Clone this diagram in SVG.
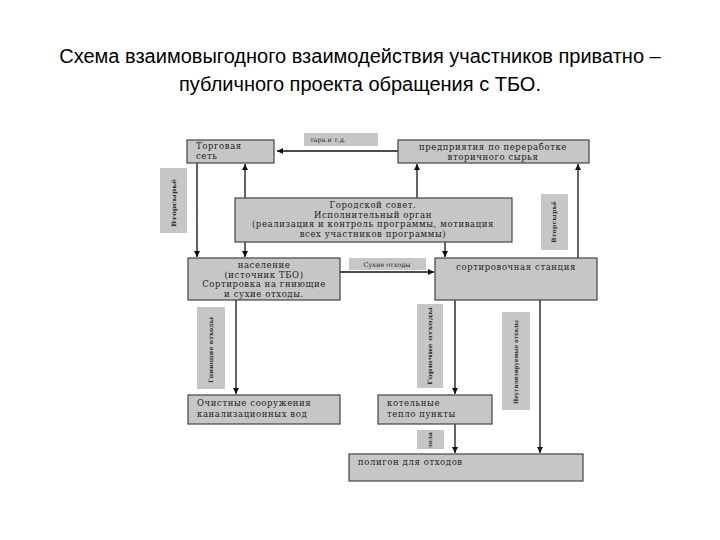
<svg xmlns="http://www.w3.org/2000/svg" width="720" height="540" viewBox="0 0 720 540">
<defs>
<marker id="ah" viewBox="0 0 10 10" refX="10" refY="5" markerWidth="6" markerHeight="6" orient="auto" markerUnits="userSpaceOnUse">
<path d="M0,0 L10,5 L0,10 z" fill="#111"/>
</marker>
<style>
.box{fill:#c6c6c6;stroke:#444;stroke-width:1.2}
.lbl{fill:#c6c6c6}
.t{font-family:"DejaVu Serif","Liberation Serif",serif;font-size:8.5px;letter-spacing:0.6px;fill:#222}
.s{font-family:"DejaVu Serif","Liberation Serif",serif;font-size:6.5px;fill:#222}
.v{font-family:"DejaVu Serif","Liberation Serif",serif;font-size:6px;font-weight:bold;fill:#333}
.title{font-family:"Liberation Sans",Arial,sans-serif;font-size:20px;fill:#000}
.c{fill:none;stroke:#111;stroke-width:1.3}
</style>
</defs>
<rect width="720" height="540" fill="#fff"/>
<g id="title">
<text class="title" x="360" y="63" text-anchor="middle">Схема взаимовыгодного взаимодействия участников  приватно –</text>
<text class="title" x="360" y="91" text-anchor="middle">публичного проекта обращения с ТБО.</text>
</g>
<g id="connectors">
<path class="c" d="M398,151 L277,151" marker-end="url(#ah)"/>
<path class="c" d="M197,163 L197,257" marker-end="url(#ah)"/>
<path class="c" d="M245,198 L245,164" marker-end="url(#ah)"/>
<path class="c" d="M245,242 L245,257" marker-end="url(#ah)"/>
<path class="c" d="M417,198 L417,164" marker-end="url(#ah)"/>
<path class="c" d="M445,242 L445,257" marker-end="url(#ah)"/>
<path class="c" d="M578,258 L578,164" marker-end="url(#ah)"/>
<path class="c" d="M340,272 L434,272" marker-end="url(#ah)"/>
<path class="c" d="M236,300 L236,394" marker-end="url(#ah)"/>
<path class="c" d="M455,300 L455,394" marker-end="url(#ah)"/>
<path class="c" d="M540,300 L540,453" marker-end="url(#ah)"/>
<path class="c" d="M455,424 L455,453" marker-end="url(#ah)"/>
</g>
<g id="n-torg">
<rect class="box" x="187" y="140" width="87" height="23"/>
<text class="t" x="196" y="149">Торговая</text>
<text class="t" x="196" y="159">сеть</text>
</g>
<g id="l-tara">
<rect class="lbl" x="304" y="133" width="74" height="13"/>
<text class="s" x="310" y="142">тара и т.д.</text>
</g>
<g id="n-pred">
<rect class="box" x="398" y="140" width="191" height="23"/>
<text class="t" x="493" y="150" text-anchor="middle">предприятия по переработке</text>
<text class="t" x="493" y="160" text-anchor="middle">вторичного сырья</text>
</g>
<g id="l-vtor1">
<rect class="lbl" x="160" y="168" width="27" height="65"/>
<text class="v" transform="translate(176,203) rotate(-90)" text-anchor="middle" textLength="48" lengthAdjust="spacingAndGlyphs">Вторсырьё</text>
</g>
<g id="n-sovet">
<rect class="box" x="235" y="198" width="277" height="44"/>
<text class="t" x="373" y="208" text-anchor="middle">Городской совет.</text>
<text class="t" x="373" y="217.5" text-anchor="middle">Исполнительный орган</text>
<text class="t" x="373" y="227" text-anchor="middle">(реализация и контроль программы, мотивация</text>
<text class="t" x="373" y="236.5" text-anchor="middle">всех участников программы)</text>
</g>
<g id="l-vtor2">
<rect class="lbl" x="541" y="194" width="27" height="56"/>
<text class="v" transform="translate(556,222) rotate(-90)" text-anchor="middle" textLength="42" lengthAdjust="spacingAndGlyphs">Вторсырьё</text>
</g>
<g id="n-nasel">
<rect class="box" x="188" y="258" width="152" height="42"/>
<text class="t" x="264" y="268" text-anchor="middle">население</text>
<text class="t" x="264" y="277.5" text-anchor="middle">(источник ТБО)</text>
<text class="t" x="264" y="287" text-anchor="middle">Сортировка на гниющие</text>
<text class="t" x="264" y="296.5" text-anchor="middle">и сухие отходы.</text>
</g>
<g id="l-suh">
<rect class="lbl" x="349" y="258" width="77" height="12"/>
<text class="s" x="387" y="266.5" text-anchor="middle">Сухие отходы</text>
</g>
<g id="n-sort">
<rect class="box" x="435" y="258" width="162" height="42"/>
<text class="t" x="516" y="270" text-anchor="middle">сортировочная станция</text>
</g>
<g id="l-gn">
<rect class="lbl" x="197" y="307" width="28" height="82"/>
<text class="v" transform="translate(213,350) rotate(-90)" text-anchor="middle" textLength="66" lengthAdjust="spacingAndGlyphs">Гниющие отходы</text>
</g>
<g id="l-gor">
<rect class="lbl" x="417" y="304" width="26" height="84"/>
<text class="v" transform="translate(432,346) rotate(-90)" text-anchor="middle" textLength="78" lengthAdjust="spacingAndGlyphs">Горючие отходы</text>
</g>
<g id="l-neut">
<rect class="lbl" x="502" y="312" width="28" height="98"/>
<text class="v" transform="translate(518,362) rotate(-90)" text-anchor="middle" textLength="84" lengthAdjust="spacingAndGlyphs">Неутилизируемые отходы</text>
</g>
<g id="n-ochist">
<rect class="box" x="188" y="395" width="152" height="29"/>
<text class="t" x="197" y="406">Очистные сооружения</text>
<text class="t" x="197" y="417">канализационных вод</text>
</g>
<g id="n-kotel">
<rect class="box" x="378" y="395" width="114" height="29"/>
<text class="t" x="387" y="406">котельные</text>
<text class="t" x="387" y="417">тепло пункты</text>
</g>
<g id="l-zola">
<rect class="lbl" x="417" y="430" width="27" height="19"/>
<text class="v" transform="translate(432,440) rotate(-90)" text-anchor="middle">зола</text>
</g>
<g id="n-polig">
<rect class="box" x="349" y="454" width="234" height="27"/>
<text class="t" x="358" y="465">полигон для отходов</text>
</g>
</svg>
